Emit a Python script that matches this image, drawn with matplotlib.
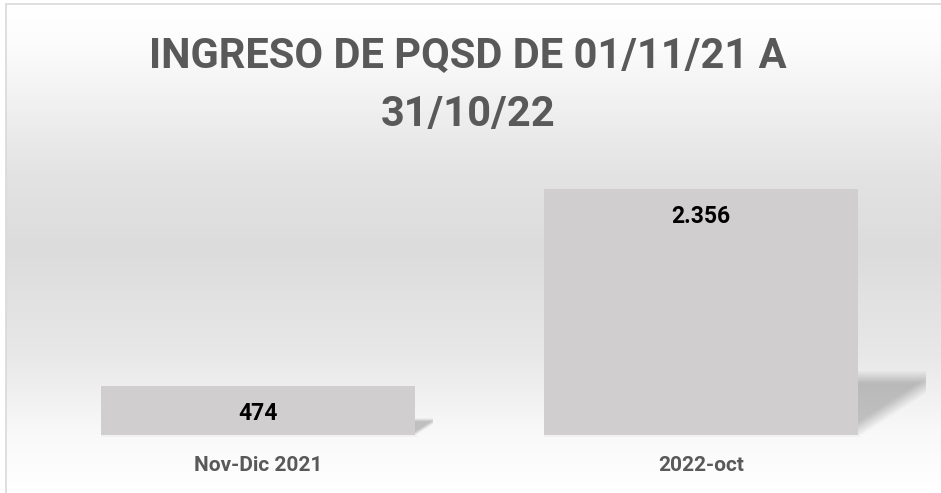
import numpy as np
import matplotlib
matplotlib.use("Agg")
import matplotlib.pyplot as plt
from matplotlib.colors import LinearSegmentedColormap
from matplotlib.patches import Rectangle

# datos
categorias = ["Nov-Dic 2021", "2022-oct"]
ingresos = [474, 2356]
etiquetas = ["474", "2.356"]
titulo = "INGRESO DE PQSD DE 01/11/21 A\n31/10/22"

W, H = 941, 493
FONT = "Roboto"
GRIS_TXT = "#595959"
GRIS_BARRA = "#d0cecf"

fig = plt.figure(figsize=(W / 100, H / 100), dpi=100)

# fondo con degradado, en coordenadas de pixel
bg = fig.add_axes([0, 0, 1, 1])
bg.set_xlim(0, W)
bg.set_ylim(0, H)
bg.axis("off")
cmap = LinearSegmentedColormap.from_list(
    "fondo",
    [(0.0, "#ffffff"), (0.08, "#fcfcfc"), (0.35, "#e3e3e3"), (0.5, "#dcdcdc"),
     (0.72, "#e8e8e8"), (0.88, "#f9f9f9"), (1.0, "#ffffff")],
)
grad = np.linspace(0, 1, 256).reshape(-1, 1)
bg.imshow(grad, cmap=cmap, extent=[6, W + 5, 0, H - 4], origin="upper",
          aspect="auto", zorder=0)
bg.add_patch(Rectangle((6, -5), W, H - 4 + 5, fill=False, ec="#d9d9d9", lw=1.2, zorder=1))

# grafico de barras
ax = fig.add_axes([37 / W, 58 / H, 885 / W, 261 / H])
ax.patch.set_alpha(0)
x = np.arange(len(categorias))
ax.set_xlim(-0.5, len(categorias) - 0.5)
ax.set_ylim(0, 2500)
bars = ax.bar(x, ingresos, width=0.71, color=GRIS_BARRA, zorder=3)
for s in ax.spines.values():
    s.set_visible(False)
ax.set_yticks([])
ax.set_xticks(x)
ax.set_xticklabels(categorias, fontfamily=FONT, fontweight="bold",
                   fontsize=15, color=GRIS_TXT)
ax.tick_params(axis="x", length=0, pad=15)

# sombras en perspectiva detras de cada barra
for b in bars:
    (x0, y0), (x1, y1) = ax.transData.transform([(b.get_x(), 0),
                                                 (b.get_x() + b.get_width(), b.get_height())])
    h = y1 - y0
    sh = 0.24 * h + 5
    sw = 1.05 * sh
    nx, ny = int(sw * 4), int(sh * 4)
    u = np.linspace(0, 1, nx)[None, :]
    v = np.linspace(0, 1, ny)[:, None]
    borde = np.clip((v - 0.68 * u) / 0.25 + 0.2, 0, 1)
    arriba = np.clip((1 - v) / 0.2, 0, 1)
    alpha = 0.22 * borde * arriba
    rgba = np.zeros((ny, nx, 4))
    rgba[..., 3] = alpha
    bg.imshow(rgba, extent=[x1, x1 + sw, y0, y0 + sh], origin="lower",
              aspect="auto", zorder=2, interpolation="bilinear")
    bg.add_patch(Rectangle((x0, y0 - 2), x1 - x0 + 2, 2, color="black",
                           alpha=0.03, lw=0, zorder=2))

# etiquetas dentro de la barra, a distancia fija del borde superior
for b, lab in zip(bars, etiquetas):
    ax.annotate(lab, (b.get_x() + b.get_width() / 2, b.get_height()),
                xytext=(0, -16), textcoords="offset pixels",
                ha="center", va="top", fontfamily=FONT, fontweight="bold",
                fontsize=16.5, color="black", zorder=4)

fig.text(468 / W, 1 - 36 / H, titulo, ha="center", va="top", fontfamily=FONT,
         fontweight="bold", fontsize=30, color=GRIS_TXT, linespacing=1.54)

fig.savefig("out.png", dpi=100)
